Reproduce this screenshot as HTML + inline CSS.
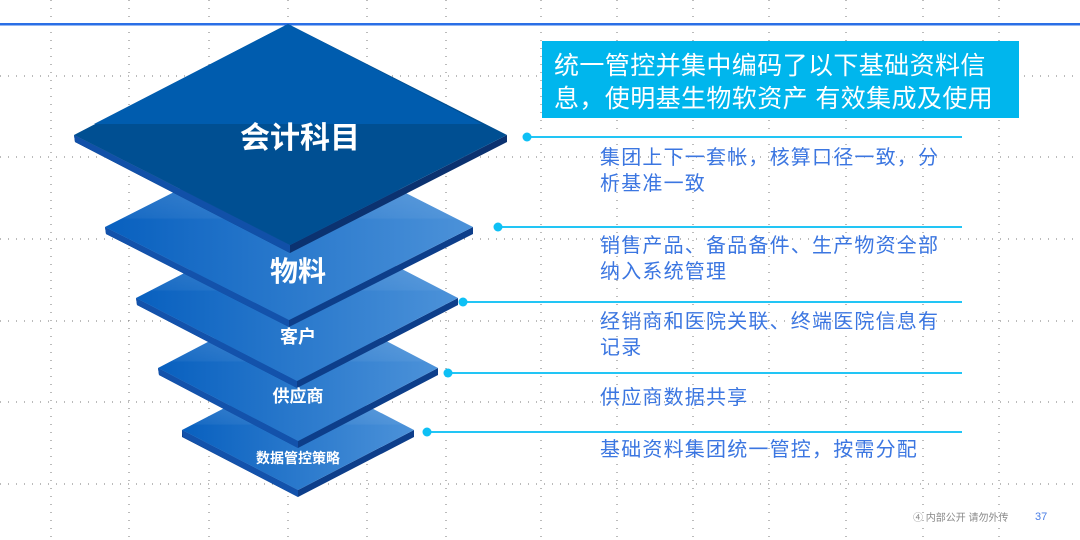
<!DOCTYPE html>
<html><head><meta charset="utf-8"><style>
html,body{margin:0;padding:0;background:#fff;}
body{width:1080px;height:540px;overflow:hidden;position:relative;font-family:"Liberation Sans","Noto Sans CJK SC",sans-serif;}
.t{position:absolute;color:#3b76e1;font-size:20px;line-height:26px;left:600px;white-space:nowrap;letter-spacing:1.2px;}
</style></head><body>
<svg width="1080" height="540" style="position:absolute;left:0;top:0" font-family="Liberation Sans, Noto Sans CJK SC, sans-serif">
<defs>
<linearGradient id="g" x1="0" x2="1" y1="0" y2="0"><stop offset="0" stop-color="#0860bf"/><stop offset="1" stop-color="#4c92d9"/></linearGradient>
<linearGradient id="sh" x1="0" x2="0" y1="0" y2="1"><stop offset="0" stop-color="#fff" stop-opacity="0.25"/><stop offset="0.45" stop-color="#fff" stop-opacity="0.05"/><stop offset="0.46" stop-color="#fff" stop-opacity="0"/></linearGradient>
</defs>
<g stroke="#777" stroke-width="1" stroke-dasharray="1,7">
<line x1="51" y1="0" x2="51" y2="540"/><line x1="129" y1="0" x2="129" y2="540"/><line x1="209" y1="0" x2="209" y2="540"/><line x1="288" y1="0" x2="288" y2="540"/><line x1="367" y1="0" x2="367" y2="540"/><line x1="446" y1="0" x2="446" y2="540"/><line x1="541" y1="0" x2="541" y2="540"/><line x1="617" y1="0" x2="617" y2="540"/><line x1="693" y1="0" x2="693" y2="540"/><line x1="769" y1="0" x2="769" y2="540"/><line x1="846" y1="0" x2="846" y2="540"/><line x1="923" y1="0" x2="923" y2="540"/><line x1="999" y1="0" x2="999" y2="540"/>
<line x1="0" y1="76" x2="1080" y2="76"/><line x1="0" y1="157" x2="1080" y2="157"/><line x1="0" y1="239" x2="1080" y2="239"/><line x1="0" y1="321" x2="1080" y2="321"/><line x1="0" y1="402" x2="1080" y2="402"/><line x1="0" y1="484" x2="1080" y2="484"/>
</g>
<rect x="0" y="23" width="1080" height="2.5" fill="#2a6fe6"/>
<polygon points="182,430 298,490 414,430 414,437 298,497 182,437" fill="#0d3e8a"/>
<polygon points="182,430 298,490 298,497 183,437" fill="#1352ab"/>
<polygon points="298,370 414,430 298,490 182,430" fill="url(#g)"/>
<polygon points="298,370 414,430 298,490 182,430" fill="url(#sh)"/>
<polygon points="158,368 298,441 438,368 438,375 298,448 159,375" fill="#0d3e8a"/>
<polygon points="158,368 298,441 298,448 159,375" fill="#1352ab"/>
<polygon points="298,295 438,368 298,441 158,368" fill="url(#g)"/>
<polygon points="298,295 438,368 298,441 158,368" fill="url(#sh)"/>
<polygon points="136,298 297,381 458,298 458,305 297,388 137,305" fill="#0d3e8a"/>
<polygon points="136,298 297,381 297,388 137,305" fill="#1352ab"/>
<polygon points="297,215 458,298 297,381 136,298" fill="url(#g)"/>
<polygon points="297,215 458,298 297,381 136,298" fill="url(#sh)"/>
<polygon points="105,227 289,320 473,227 473,234 289,327 106,234" fill="#0d3e8a"/>
<polygon points="105,227 289,320 289,327 106,234" fill="#1352ab"/>
<polygon points="289,134 473,227 289,320 105,227" fill="url(#g)"/>
<polygon points="289,134 473,227 289,320 105,227" fill="url(#sh)"/>
<polygon points="74,135 290,245 507,135 507,142 290,253 75,142" fill="#0b3270"/>
<polygon points="74,135 290,245 290,253 75,142" fill="#1150a8"/>
<polygon points="288,24 507,135 290,245 74,135" fill="#004f92"/>
<polygon points="288,24 482,124 94,124" fill="#005cae"/>
<g fill="#fff" font-weight="bold" text-anchor="middle">
<text x="300" y="148" font-size="30">会计科目</text>
<text x="298" y="281" font-size="28">物料</text>
<text x="298" y="343" font-size="18">客户</text>
<text x="298" y="402" font-size="17">供应商</text>
<text x="298" y="463" font-size="14">数据管控策略</text>
</g>
<g stroke="#22c5f5" stroke-width="2">
<line x1="527" y1="137" x2="962" y2="137"/><line x1="498" y1="227" x2="962" y2="227"/><line x1="463" y1="302" x2="962" y2="302"/><line x1="448" y1="373" x2="962" y2="373"/><line x1="427" y1="432" x2="962" y2="432"/>
</g>
<g fill="#0ec0f5"><circle cx="527" cy="137" r="4.5"/><circle cx="498" cy="227" r="4.5"/><circle cx="463" cy="302" r="4.5"/><circle cx="448" cy="373" r="4.5"/><circle cx="427" cy="432" r="4.5"/></g>
<rect x="542" y="41" width="477" height="77" fill="#00b6ed"/>
<text x="554" y="74" font-size="25" fill="#fff" letter-spacing="0.4">统一管控并集中编码了以下基础资料信</text>
<text x="554" y="107" font-size="25" fill="#fff" letter-spacing="0.4">息，使明基生物软资产 有效集成及使用</text>
<text x="913" y="521" font-size="10" fill="#888">④ 内部公开 请勿外传</text>
<text x="1035" y="520" font-size="11" fill="#4a7ee6">37</text>
</svg>
<div class="t" style="top:145px">集团上下一套帐，核算口径一致，分<br>析基准一致</div>
<div class="t" style="top:233px">销售产品、备品备件、生产物资全部<br>纳入系统管理</div>
<div class="t" style="top:309px">经销商和医院关联、终端医院信息有<br>记录</div>
<div class="t" style="top:385px">供应商数据共享</div>
<div class="t" style="top:437px">基础资料集团统一管控，按需分配</div>
</body></html>
